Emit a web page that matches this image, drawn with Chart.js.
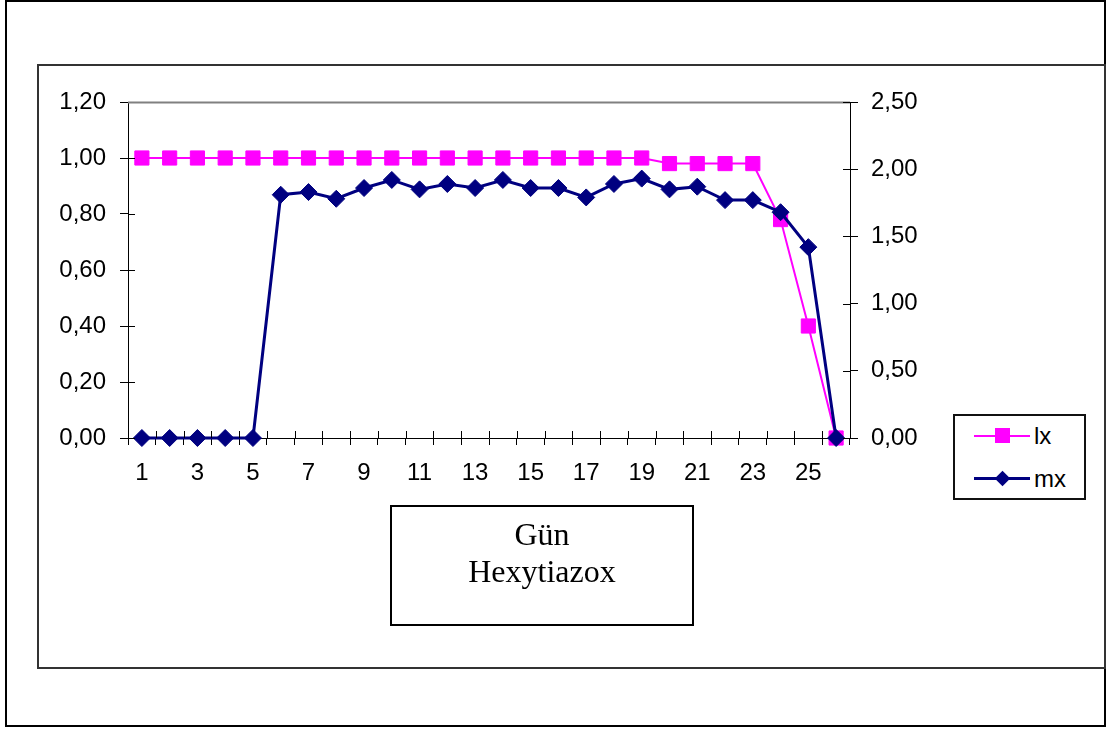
<!DOCTYPE html>
<html>
<head>
<meta charset="utf-8">
<script src="https://cdn.jsdelivr.net/npm/chart.js@4/dist/chart.umd.min.js"></script>
<style>
  html, body { margin: 0; padding: 0; background: #fff; }
  #page { position: relative; width: 1109px; height: 729px; overflow: hidden; background: #fff; }
  .box { position: absolute; box-sizing: border-box; }
  #outer { left: 5px; top: 0px; width: 1101px; height: 727px; border: 2px solid #000; }
  #inner { left: 37px; top: 64px; width: 1069px; height: 605px; border: 2px solid #333; }
  #chart { position: absolute; left: 0; top: 0; }
  #titlebox { left: 390px; top: 505px; width: 304px; height: 121px; border: 2px solid #000;
    font-family: "Liberation Serif", "Times New Roman", serif; font-size: 32px; line-height: 37px;
    text-align: center; padding-top: 9px; color: #000; }
  #legend { left: 953px; top: 414px; width: 133px; height: 86px; border: 2px solid #111; background: #fff; }
  .item { position: absolute; left: 19px; height: 30px; width: 110px; }
  .seg { position: absolute; left: 0; width: 56px; }
  .mk { position: absolute; }
  .lab { position: absolute; left: 60px; top: 0; font-family: "Liberation Sans", Arial, sans-serif; font-size: 24px; line-height: 30px; color: #000; }
</style>
</head>
<body>
<div id="page">
  <div class="box" id="outer"></div>
  <div class="box" id="inner"></div>
  <canvas id="chart" width="1109" height="729"></canvas>
  <div class="box" id="titlebox">Gün<br>Hexytiazox</div>
  <div class="box" id="legend">
    <div class="item" style="top:5px;">
      <div class="seg" style="top:14px;height:2px;background:#FF00FF;"></div>
      <div class="mk" style="left:21px;top:7px;width:15px;height:15px;background:#FF00FF;"></div>
      <div class="lab">lx</div>
    </div>
    <div class="item" style="top:48px;">
      <div class="seg" style="top:13px;height:3px;background:#000080;"></div>
      <div class="mk" style="left:23px;top:9px;width:11px;height:11px;background:#000080;transform:rotate(45deg);"></div>
      <div class="lab">mx</div>
    </div>
  </div>
</div>
<script>
const days = ['1','2','3','4','5','6','7','8','9','10','11','12','13','14','15','16','17','18','19','20','21','22','23','24','25','26'];
const lxValues = [1.00,1.00,1.00,1.00,1.00,1.00,1.00,1.00,1.00,1.00,1.00,1.00,1.00,1.00,1.00,1.00,1.00,1.00,1.00,0.98,0.98,0.98,0.98,0.78,0.40,0.00];
const mxValues = [0,0,0,0,0,1.81,1.83,1.78,1.86,1.92,1.85,1.89,1.86,1.92,1.86,1.86,1.79,1.89,1.93,1.85,1.87,1.77,1.77,1.68,1.42,0];
const leftTicks = [0, 0.2, 0.4, 0.6, 0.8, 1.0, 1.2];
const rightTicks = [0, 0.5, 1.0, 1.5, 2.0, 2.5];

const fmt = v => Number(v).toFixed(2).replace('.', ',');
const tickFont = { family: '"Liberation Sans", Arial, sans-serif', size: 24 };

const frame = {
  id: 'frame',
  afterDatasetsDraw(chart) {
    const { ctx, chartArea: a, scales } = chart;
    ctx.save();
    // gray top border of the plot area
    ctx.strokeStyle = '#808080';
    ctx.lineWidth = 2;
    ctx.beginPath(); ctx.moveTo(a.left, a.top + 0.5); ctx.lineTo(a.right, a.top + 0.5); ctx.stroke();
    // inward halves of the tick marks
    ctx.strokeStyle = '#000';
    ctx.lineWidth = 1;
    ctx.beginPath();
    for (let i = 0; i <= days.length; i++) {
      const x = Math.round(scales.x.getPixelForValue(i - 0.5)) + 0.5;
      ctx.moveTo(x, a.bottom); ctx.lineTo(x, a.bottom - 7);
    }
    for (const v of rightTicks) {
      const y = Math.round(scales.y1.getPixelForValue(v)) + 0.5;
      ctx.moveTo(a.right, y); ctx.lineTo(a.right - 7, y);
    }
    for (const v of leftTicks) {
      if (v === 1.2) continue;
      const y = Math.round(scales.y.getPixelForValue(v)) + 0.5;
      ctx.moveTo(a.left, y); ctx.lineTo(a.left + 7, y);
    }
    ctx.stroke();
    ctx.restore();
  }
};

new Chart(document.getElementById('chart'), {
  type: 'line',
  data: {
    labels: days,
    datasets: [
      {
        label: 'mx', data: mxValues, yAxisID: 'y1',
        borderColor: '#000080', backgroundColor: '#000080', borderWidth: 3,
        pointStyle: 'rectRot', pointRadius: 8.5, pointBorderWidth: 1,
        pointBackgroundColor: '#000080', pointBorderColor: '#000080',
        tension: 0, clip: false
      },
      {
        label: 'lx', data: lxValues, yAxisID: 'y',
        borderColor: '#FF00FF', backgroundColor: '#FF00FF', borderWidth: 2,
        pointStyle: 'rect', pointRadius: 10, pointBorderWidth: 1,
        pointBackgroundColor: '#FF00FF', pointBorderColor: '#FF00FF',
        tension: 0, clip: false
      }
    ]
  },
  options: {
    responsive: false,
    animation: false,
    events: [],
    layout: { padding: { top: 102, left: 0, right: 0, bottom: 0 } },
    plugins: { legend: { display: false }, title: { display: false }, tooltip: { enabled: false } },
    scales: {
      x: {
        type: 'category', offset: true,
        grid: { offset: true, drawOnChartArea: false, tickLength: 7, color: '#000', lineWidth: 1 },
        border: { color: '#000', width: 1 },
        ticks: { autoSkip: false, maxRotation: 0, minRotation: 0, font: tickFont, color: '#000', padding: 14,
          callback: (v, i) => (i % 2 === 0 ? days[i] : '') },
        afterFit: s => { s.height = 729 - 438; }
      },
      y: {
        position: 'left', min: 0, max: 1.2,
        afterBuildTicks: s => { s.ticks = leftTicks.map(v => ({ value: v })); },
        grid: { drawOnChartArea: false, tickLength: 8, color: '#000' },
        border: { color: '#000', width: 1 },
        ticks: { font: tickFont, color: '#000', padding: 14, callback: v => fmt(v) },
        afterFit: s => { s.width = 128; }
      },
      y1: {
        position: 'right', min: 0, max: 2.5,
        afterBuildTicks: s => { s.ticks = rightTicks.map(v => ({ value: v })); },
        grid: { drawOnChartArea: false, tickLength: 8, color: '#000' },
        border: { color: '#000', width: 1 },
        ticks: { font: tickFont, color: '#000', padding: 13, callback: v => fmt(v) },
        afterFit: s => { s.width = 1109 - 850; }
      }
    }
  },
  plugins: [frame]
});
</script>
</body>
</html>
